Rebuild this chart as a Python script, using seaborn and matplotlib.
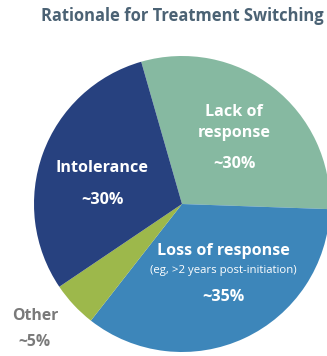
import matplotlib
matplotlib.use("Agg")
import matplotlib.pyplot as plt
import seaborn as sns

# Shares of patients by reason for switching treatment (percent)
categories = ["Lack of response", "Loss of response", "Other", "Intolerance"]
shares = [30, 35, 5, 30]
notes = ["", "(eg, >2 years post-initiation)", "", ""]
colors = ["#86b9a1", "#3d86ba", "#9db84b", "#27417f"]

sns.set_theme(style="white")
plt.rcParams["font.family"] = ["Open Sans", "DejaVu Sans"]

W, H = 327, 356
fig = plt.figure(figsize=(W / 100, H / 100), dpi=100)
ax = fig.add_axes([0, 0, 1, 1])

cx, cy, r = 182, 204, 148
ax.pie(shares, colors=colors, startangle=106, counterclock=False,
       center=(cx, H - cy), radius=r,
       wedgeprops=dict(linewidth=0))
ax.set_xlim(0, W)
ax.set_ylim(0, H)
ax.set_axis_off()


def put(x, y, s, **kw):
    ax.text(x, H - y, s, ha="center", va="center", **kw)


put(182, 16, "Rationale for Treatment Switching", fontsize=11.9,
    fontweight="bold", color="#4b6274")

white = dict(color="white", fontweight="bold")
fs = 11.6
# Lack of response
put(234, 112, "Lack of", fontsize=fs, **white)
put(234, 133, "response", fontsize=fs, **white)
put(234, 164, f"~{shares[0]}%", fontsize=fs, **white)
# Loss of response
put(223, 251, categories[1], fontsize=fs, **white)
put(223, 270, notes[1], fontsize=8.2, color="white")
put(223, 297, f"~{shares[1]}%", fontsize=fs, **white)
# Intolerance
put(102, 168, categories[3], fontsize=fs, **white)
put(102, 200, f"~{shares[3]}%", fontsize=fs, **white)
# Other, outside the pie
put(35, 316, categories[2], fontsize=11.3, fontweight="bold", color="#7a7a7a")
put(34, 342, f"~{shares[2]}%", fontsize=11.3, fontweight="bold", color="#7a7a7a")

fig.savefig("out.png", dpi=100)
